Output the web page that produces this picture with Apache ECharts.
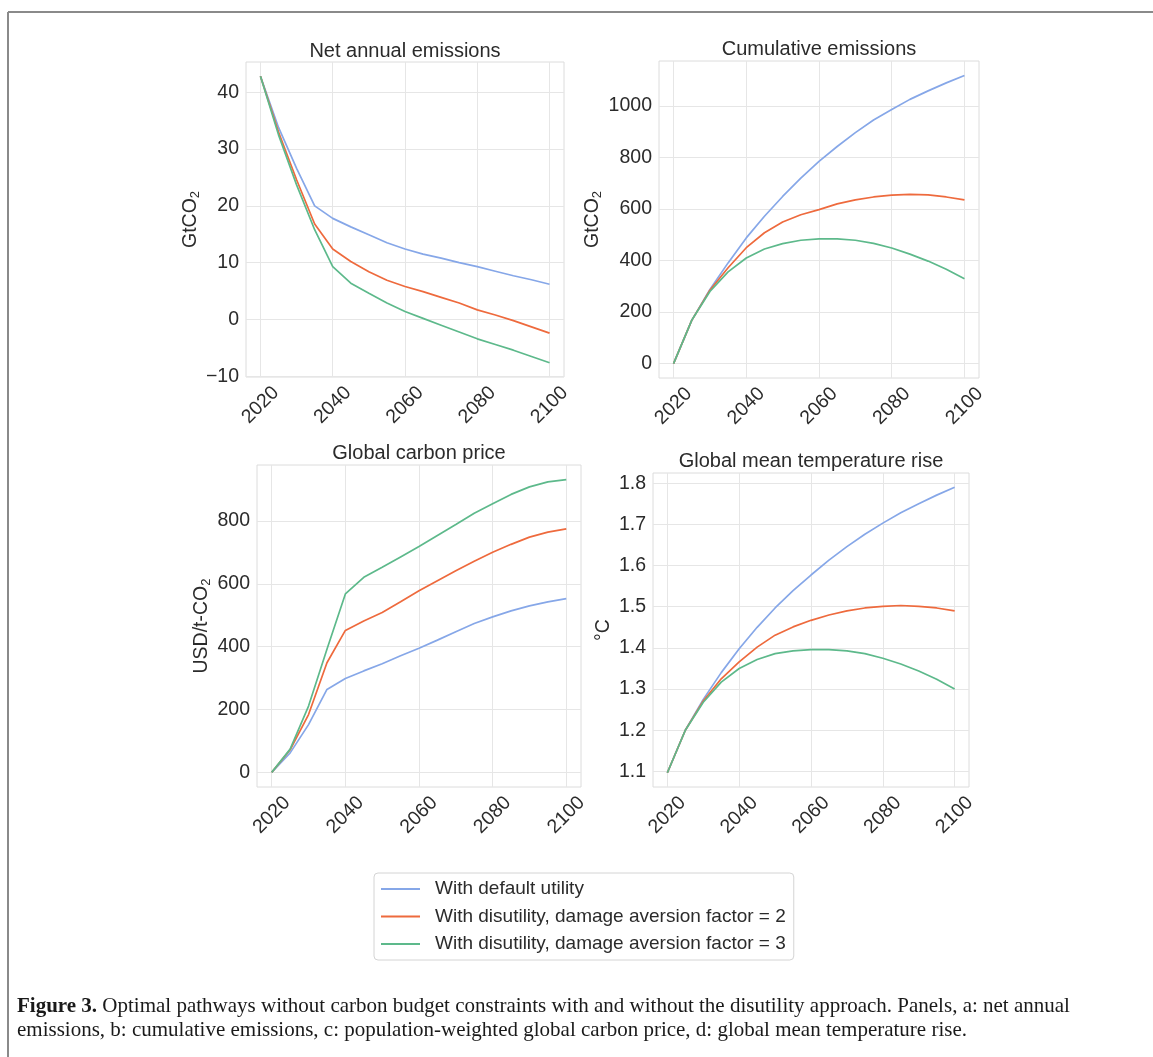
<!DOCTYPE html>
<html>
<head>
<meta charset="utf-8">
<script src="https://cdn.jsdelivr.net/npm/echarts@6/dist/echarts.min.js"></script>
<style>
html,body{margin:0;padding:0;background:#fff;}
#chart{width:1153px;height:1057px;}
</style>
</head>
<body>
<div id="chart"></div>
<script>
// ---------- DATA ----------
const years = [2020,2025,2030,2035,2040,2045,2050,2055,2060,2065,2070,2075,2080,2085,2090,2095,2100];
const seriesNames = ['With default utility','With disutility, damage aversion factor = 2','With disutility, damage aversion factor = 3'];
const panelTitles = ['Net annual emissions','Cumulative emissions','Global carbon price','Global mean temperature rise'];

const netDefault = [42.8,33.8,26.6,20.0,17.8,16.3,14.9,13.5,12.4,11.5,10.8,10.0,9.3,8.5,7.7,7.0,6.2];
const netDA2     = [42.8,33.0,24.6,16.8,12.4,10.2,8.4,6.9,5.8,4.9,3.9,2.9,1.7,0.8,-0.2,-1.3,-2.4];
const netDA3     = [42.8,32.5,23.7,15.8,9.3,6.4,4.6,2.9,1.4,0.2,-1.0,-2.2,-3.4,-4.4,-5.4,-6.5,-7.6];

const cumDefault = [0,168,288,391,488,572,649,720,785,843,897,946,987,1026,1059,1090,1119];
const cumDA2     = [0,168,285,372,450,508,550,578,598,620,636,647,654,657,655,647,636];
const cumDA3     = [0,168,280,356,410,445,466,479,484,484,479,467,449,425,398,366,329];

const priceDefault = [0,62,152,264,299,323,346,371,395,421,448,474,495,514,530,543,553];
const priceDA2     = [0,72,184,349,452,482,509,543,578,610,642,672,701,726,749,765,775];
const priceDA3     = [0,74,211,392,568,621,653,686,719,754,789,825,855,885,909,925,932];

const tempDefault = [1.097,1.200,1.275,1.340,1.398,1.450,1.497,1.539,1.577,1.613,1.646,1.676,1.703,1.728,1.750,1.771,1.790];
const tempDA2     = [1.097,1.200,1.271,1.325,1.366,1.402,1.431,1.451,1.467,1.480,1.490,1.497,1.501,1.503,1.501,1.497,1.490];
const tempDA3     = [1.097,1.200,1.268,1.317,1.350,1.372,1.386,1.393,1.396,1.396,1.393,1.386,1.375,1.361,1.344,1.324,1.300];

const xTicks = [2020,2040,2060,2080,2100];
const yTicksNet = [-10,0,10,20,30,40];
const yTicksCum = [0,200,400,600,800,1000];
const yTicksPrice = [0,200,400,600,800];
const yTicksTemp = [1.1,1.2,1.3,1.4,1.5,1.6,1.7,1.8];

const captionBold = 'Figure 3.';
const captionLine1 = ' Optimal pathways without carbon budget constraints with and without the disutility approach. Panels, a: net annual';
const captionLine2 = 'emissions, b: cumulative emissions, c: population-weighted global carbon price, d: global mean temperature rise.';

// ---------- LAYOUT / STYLE ----------
const colors = ['#86a7e8','#ee6a3d','#5db98b'];
const FONT = '"Liberation Sans", Arial, sans-serif';
const SERIF = '"Liberation Serif", serif';
const TXT = '#2b2b2b';

const panels = [
  {grid:{left:246,top:62,width:318,height:315}, ymin:-10.12, ymax:45.32, yTicks:yTicksNet, data:[netDefault,netDA2,netDA3],
   name:'GtCO{s|2}', gap:44, fmt:v=> v<0 ? '\u2212'+Math.abs(v) : String(v), titleY:51},
  {grid:{left:659,top:61,width:320,height:317}, ymin:-56, ymax:1175, yTicks:yTicksCum, data:[cumDefault,cumDA2,cumDA3],
   name:'GtCO{s|2}', gap:55, fmt:v=>String(v), titleY:49},
  {grid:{left:257,top:465,width:324,height:322}, ymin:-46.6, ymax:978.6, yTicks:yTicksPrice, data:[priceDefault,priceDA2,priceDA3],
   name:'USD/t-CO{s|2}', gap:44, fmt:v=>String(v), titleY:453},
  {grid:{left:653,top:473,width:316,height:314}, ymin:1.0623, ymax:1.8247, yTicks:yTicksTemp, data:[tempDefault,tempDA2,tempDA3],
   name:'°C', gap:36, fmt:v=>v.toFixed(1), titleY:461.5}
];

const grids=[], xAxes=[], yAxes=[], series=[], titles=[];
panels.forEach((p,i)=>{
  grids.push(Object.assign({show:true, borderColor:'#dcdcdc', borderWidth:1, backgroundColor:'#fff'}, p.grid));
  titles.push({
    text: panelTitles[i], left: p.grid.left + p.grid.width/2, top: p.titleY, textAlign:'center', textVerticalAlign:'middle', padding:0,
    textStyle:{fontFamily:FONT, fontSize:20, fontWeight:'normal', color:TXT}
  });
  xAxes.push({
    type:'value', gridIndex:i, min:2016, max:2104,
    axisLine:{show:false},
    axisTick:{show:false, customValues:xTicks},
    axisLabel:{customValues:xTicks, rotate:45, align:'center', verticalAlign:'middle', margin:28,
      fontFamily:FONT, fontSize:19.5, color:TXT, formatter:v=>String(v)},
    splitLine:{show:true, lineStyle:{color:'#e6e6e6', width:1}}
  });
  yAxes.push({
    type:'value', gridIndex:i, min:p.ymin, max:p.ymax,
    axisLine:{show:false},
    axisTick:{show:false, customValues:p.yTicks},
    axisLabel:{customValues:p.yTicks, margin:7, fontFamily:FONT, fontSize:19.5, color:TXT, formatter:p.fmt},
    splitLine:{show:true, lineStyle:{color:'#e6e6e6', width:1}},
    name:p.name, nameLocation:'middle', nameGap:p.gap,
    nameTextStyle:{fontFamily:FONT, fontSize:19.5, color:TXT, lineHeight:22,
      rich:{s:{fontFamily:FONT, fontSize:13, color:TXT, verticalAlign:'bottom', lineHeight:22}}}
  });
  p.data.forEach((arr,k)=>{
    series.push({
      name:seriesNames[k], type:'line', xAxisIndex:i, yAxisIndex:i,
      data: years.map((y,j)=>[y, arr[j]]),
      showSymbol:false, symbol:'none', smooth:false,
      lineStyle:{color:colors[k], width:1.7}, itemStyle:{color:colors[k]},
      z: 2+k
    });
  });
});

const option = {
  backgroundColor:'#fff',
  animation:false,
  title: titles,
  grid: grids,
  xAxis: xAxes,
  yAxis: yAxes,
  series: series,
  legend: {
    data: seriesNames, orient:'vertical', left:374, top:873,
    padding:[6,8,6,7], itemGap:7.5, itemWidth:39, itemHeight:2, icon:'rect',
    borderColor:'#d4d4d4', borderWidth:1, borderRadius:4, backgroundColor:'#fff',
    textStyle:{fontFamily:FONT, fontSize:19, color:TXT, lineHeight:20, padding:[0,0,0,10]}
  },
  graphic: [
    {type:'line', shape:{x1:8,y1:12,x2:1153,y2:12}, style:{stroke:'#8a8a8a', lineWidth:2}, silent:true},
    {type:'line', shape:{x1:8,y1:12,x2:8,y2:1057}, style:{stroke:'#8a8a8a', lineWidth:2}, silent:true},
    {type:'text', left:17, top:996, silent:true,
      style:{text:'{b|'+captionBold+'}'+captionLine1, fontFamily:SERIF, fontSize:21, fill:'#1a1a1a',
        rich:{b:{fontFamily:SERIF, fontSize:21, fontWeight:'bold', fill:'#1a1a1a'}}}},
    {type:'text', left:17, top:1020, silent:true,
      style:{text:captionLine2, fontFamily:SERIF, fontSize:21, fill:'#1a1a1a'}}
  ]
};

const chart = echarts.init(document.getElementById('chart'), null, {renderer:'canvas'});
chart.setOption(option);
</script>
</body>
</html>
